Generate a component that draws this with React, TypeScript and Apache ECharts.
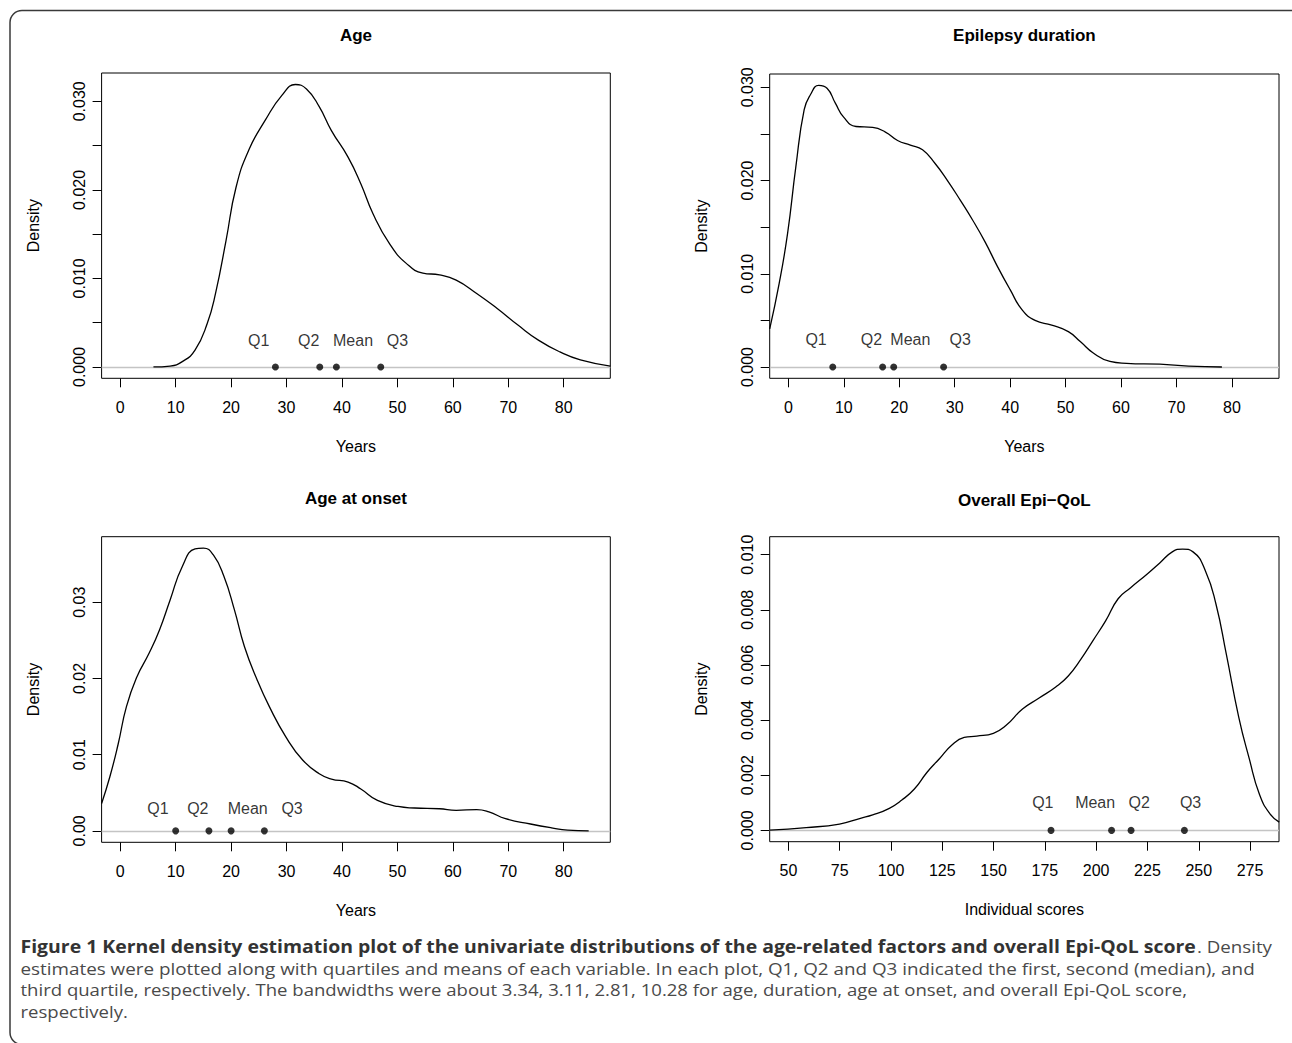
import React, { useEffect, useRef } from "react";
import * as echarts from "echarts";

// ---------- data ----------
const panelTitles = ["Age", "Epilepsy duration", "Age at onset", "Overall Epi\u2212QoL"];
const xNames = ["Years", "Years", "Years", "Individual scores"];

const ageX = [6, 9, 11.2, 13.5, 15.7, 17.2, 19.1, 20.9, 23.2, 26.2, 29.2, 31.6, 33.6, 35.9, 38.1, 41.1, 43.4, 45.6, 48.6, 51.6, 54.6, 57.6, 60.6, 64.3, 68, 71.8, 75.5, 79.3, 83, 88.4];
const ageD = [0, 0.0001, 0.0006, 0.0019, 0.0049, 0.0083, 0.0143, 0.0203, 0.0245, 0.0279, 0.0307, 0.0319, 0.0314, 0.0294, 0.0267, 0.0237, 0.0207, 0.0173, 0.0139, 0.0117, 0.0106, 0.0104, 0.0098, 0.0083, 0.0066, 0.0047, 0.003, 0.0017, 0.0008, 0.0001];

const durX = [-3.37, -1.65, -0.15, 1.35, 2.85, 3.97, 5.47, 6.97, 8.47, 9.97, 12.2, 15.2, 17.5, 19.7, 22.0, 24.2, 26.5, 28.7, 31.0, 33.2, 35.5, 37.7, 40.0, 42.2, 44.5, 47.5, 50.5, 52.7, 55.0, 58.0, 61.0, 67.0, 72.2, 78.2];
const durD = [0.0041, 0.009, 0.0143, 0.0215, 0.0276, 0.0292, 0.0302, 0.0299, 0.0283, 0.0268, 0.0258, 0.0257, 0.0252, 0.0243, 0.0238, 0.0233, 0.0218, 0.02, 0.0179, 0.0158, 0.0134, 0.0108, 0.0083, 0.0061, 0.005, 0.0045, 0.0038, 0.0027, 0.0015, 0.0006, 0.0004, 0.0003, 0.0001, 0.0];

const onsetX = [-3.36, -1.87, -0.37, 1.12, 3.0, 5.2, 7.1, 9.0, 11.2, 13.5, 15.0, 16.8, 18.7, 20.6, 22.4, 24.7, 26.9, 29.9, 32.9, 35.9, 38.1, 41.1, 43.4, 46.4, 50.1, 53.1, 57.6, 60.6, 64.3, 66.5, 69.5, 74.0, 77.8, 80.7, 84.5];
const onsetD = [0.0036, 0.0071, 0.0114, 0.0163, 0.0202, 0.0233, 0.0264, 0.0303, 0.0347, 0.037, 0.0371, 0.0362, 0.0334, 0.029, 0.0242, 0.0198, 0.0163, 0.0123, 0.0093, 0.0075, 0.0068, 0.0064, 0.0055, 0.004, 0.0032, 0.003, 0.0029, 0.0027, 0.0028, 0.0025, 0.0016, 0.0009, 0.0004, 0.0001, 0.0];

const qolX = [40.9, 58.7, 74.9, 85.1, 91.1, 99.2, 105.3, 111.4, 117.5, 123.6, 129.7, 135.7, 141.8, 149.9, 156.0, 164.1, 172.2, 180.3, 186.4, 192.5, 198.6, 204.6, 210.7, 216.8, 224.9, 231.0, 237.1, 242.1, 247.2, 253.3, 258.4, 263.4, 269.5, 274.6, 279.6, 284.7, 289.2];
const qolD = [0.00001, 0.0001, 0.00023, 0.00044, 0.00056, 0.0008, 0.0011, 0.0015, 0.0021, 0.0026, 0.0031, 0.00337, 0.00342, 0.00352, 0.0038, 0.0044, 0.0048, 0.0052, 0.0056, 0.0062, 0.0069, 0.0076, 0.0084, 0.0088, 0.0093, 0.0097, 0.0101, 0.0102, 0.0101, 0.0094, 0.0082, 0.0064, 0.0041, 0.0026, 0.0013, 0.0006, 0.0003];

const ageStatNames = ["Q1", "Q2", "Mean", "Q3"];
const ageStats = [28, 36, 39, 47];
const ageLabelX = [25, 34, 42, 50];

const durStatNames = ["Q1", "Q2", "Mean", "Q3"];
const durStats = [8, 17, 19, 28];
const durLabelX = [5, 15, 22, 31];

const onsetStatNames = ["Q1", "Q2", "Mean", "Q3"];
const onsetStats = [10, 16, 20, 26];
const onsetLabelX = [6.8, 14, 23, 31];

const qolStatNames = ["Q1", "Mean", "Q2", "Q3"];
const qolStats = [178, 207.5, 217, 243];
const qolLabelX = [174, 199.5, 221, 246];

const labelLevels = [0.003, 0.003, 0.003, 0.001];

const yearTicks = [0, 10, 20, 30, 40, 50, 60, 70, 80];
const scoreTicks = [50, 75, 100, 125, 150, 175, 200, 225, 250, 275];
const densTicks1 = [0, 0.005, 0.01, 0.015, 0.02, 0.025, 0.03];
const densLabels1 = [0, 0.01, 0.02, 0.03];
const densTicks3 = [0, 0.01, 0.02, 0.03];
const densTicks4 = [0, 0.002, 0.004, 0.006, 0.008, 0.01];

const xRanges = [[-3.35, 88.4], [-3.37, 88.5], [-3.36, 88.4], [40.9, 289.1]];
const yRanges = [[-0.00128, 0.0332], [-0.00121, 0.03143], [-0.0015, 0.0386], [-0.00041, 0.01065]];

const captionBold = "Figure 1 Kernel density estimation plot of the univariate distributions of the age-related factors and overall Epi-QoL score";
const captionLines = [
  ". Density",
  "estimates were plotted along with quartiles and means of each variable. In each plot, Q1, Q2 and Q3 indicated the first, second (median), and",
  "third quartile, respectively. The bandwidths were about 3.34, 3.11, 2.81, 10.28 for age, duration, age at onset, and overall Epi-QoL score,",
  "respectively.",
];

// ---------- layout ----------
const grids = [
  { left: 101.6, top: 73, width: 508.7, height: 305.3 },
  { left: 769.7, top: 74, width: 509.3, height: 304.3 },
  { left: 101.6, top: 536.7, width: 508.7, height: 305.6 },
  { left: 769.7, top: 536.7, width: 509.3, height: 305 },
];
const titleY = [35, 35, 498, 500];

const FONT = "Liberation Sans";
const CAP_FONT = "Open Sans";

function measure(text: string, font: string): number {
  const c = document.createElement("canvas").getContext("2d");
  if (!c) return text.length * 8;
  c.font = font;
  return c.measureText(text).width;
}

export default function App() {
  const ref = useRef<HTMLDivElement>(null);
  useEffect(() => {
    if (!ref.current) return;
    const chart = echarts.init(ref.current, undefined, { renderer: "svg" });

    const curves = [
      [ageX, ageD],
      [durX, durD],
      [onsetX, onsetD],
      [qolX, qolD],
    ];
    const stats = [
      [ageStatNames, ageStats, ageLabelX],
      [durStatNames, durStats, durLabelX],
      [onsetStatNames, onsetStats, onsetLabelX],
      [qolStatNames, qolStats, qolLabelX],
    ] as [string[], number[], number[]][];
    const xTicks = [yearTicks, yearTicks, yearTicks, scoreTicks];
    const yTicks = [densTicks1, densTicks1, densTicks3, densTicks4];
    const yLabels = [densLabels1, densLabels1, densTicks3, densTicks4];
    const yDigits = [3, 3, 2, 3];

    const series: any[] = [];
    curves.forEach(([xs, ds], i) => {
      series.push({
        type: "line",
        xAxisIndex: i,
        yAxisIndex: i,
        data: xs.map((x, k) => [x, ds[k]]),
        showSymbol: false,
        smooth: 0.5,
        lineStyle: { color: "#000", width: 1.3 },
        z: 3,
        markLine: {
          silent: true,
          symbol: "none",
          label: { show: false },
          lineStyle: { color: "#c4c4c4", width: 1.4, type: "solid" },
          data: [{ yAxis: 0 }],
          z: 1,
        },
      });
      const [names, vals, lx] = stats[i];
      series.push({
        type: "scatter",
        xAxisIndex: i,
        yAxisIndex: i,
        symbolSize: 7,
        itemStyle: { color: "#000" },
        data: vals.map((v, k) => ({ name: names[k], value: [v, 0] })),
        z: 4,
      });
      series.push({
        type: "scatter",
        xAxisIndex: i,
        yAxisIndex: i,
        symbolSize: 0,
        silent: true,
        data: lx.map((v, k) => ({ name: names[k], value: [v, labelLevels[i]] })),
        label: {
          show: true,
          position: "inside",
          formatter: "{b}",
          color: "#000",
          fontSize: 16,
          fontFamily: FONT,
        },
        z: 4,
      });
    });

    const graphics: any[] = [];
    // outer rounded frame
    graphics.push({
      type: "rect",
      shape: { x: 10, y: 10.5, width: 1300, height: 1034, r: 12 },
      style: { fill: "none", stroke: "#3a3a3a", lineWidth: 1.5 },
      silent: true,
    });
    // panel titles
    grids.forEach((g, i) => {
      graphics.push({
        type: "text",
        x: g.left + g.width / 2,
        y: titleY[i],
        style: {
          text: panelTitles[i],
          fill: "#000",
          fontSize: 17,
          fontWeight: "bold",
          fontFamily: FONT,
          align: "center",
          verticalAlign: "middle",
        },
      });
    });
    // caption
    const capSize = 17;
    const boldFont = `bold ${capSize}px "${CAP_FONT}"`;
    const normFont = `${capSize}px "${CAP_FONT}"`;
    const capLeft = 20.5;
    const boldW = measure(captionBold, boldFont);
    const boldScale = (1197 - capLeft) / boldW;
    const lineEnds = [1272, 1255, 1188, 128];
    const lineYs = [946.5, 968, 989.5, 1011];
    graphics.push({
      type: "text",
      x: capLeft,
      y: lineYs[0],
      scaleX: boldScale,
      style: {
        text: captionBold,
        fill: "#333",
        fontSize: capSize,
        fontWeight: "bold",
        fontFamily: CAP_FONT,
        align: "left",
        verticalAlign: "middle",
      },
    });
    captionLines.forEach((t, i) => {
      const start = i === 0 ? 1197 : capLeft;
      const w = measure(t, normFont);
      const sc = (lineEnds[i] - start) / w;
      graphics.push({
        type: "text",
        x: start,
        y: lineYs[i],
        scaleX: sc,
        style: {
          text: t,
          fill: "#4a4a4a",
          fontSize: capSize,
          fontFamily: CAP_FONT,
          align: "left",
          verticalAlign: "middle",
        },
      });
    });

    const option: any = {
      animation: false,
      backgroundColor: "#fff",
      grid: grids.map((g) => ({
        ...g,
        show: true,
        borderColor: "#000",
        borderWidth: 1,
        backgroundColor: "transparent",
        containLabel: false,
      })),
      xAxis: grids.map((_, i) => ({
        type: "value",
        gridIndex: i,
        position: "bottom",
        min: xRanges[i][0],
        max: xRanges[i][1],
        name: xNames[i],
        nameLocation: "middle",
        nameGap: 60,
        nameTextStyle: { fontSize: 16, fontFamily: FONT, color: "#000" },
        axisLine: { show: false, onZero: false },
        splitLine: { show: false },
        axisTick: {
          show: true,
          inside: false,
          length: 9,
          customValues: xTicks[i],
          lineStyle: { color: "#000", width: 1 },
        },
        axisLabel: {
          show: true,
          customValues: xTicks[i],
          margin: 21,
          fontSize: 16,
          fontFamily: FONT,
          color: "#000",
          formatter: (v: number) => String(Math.round(v)),
        },
      })),
      yAxis: grids.map((_, i) => ({
        type: "value",
        gridIndex: i,
        position: "left",
        min: yRanges[i][0],
        max: yRanges[i][1],
        name: "Density",
        nameLocation: "middle",
        nameGap: 60,
        nameTextStyle: { fontSize: 16, fontFamily: FONT, color: "#000" },
        axisLine: { show: false, onZero: false },
        splitLine: { show: false },
        axisTick: {
          show: true,
          inside: false,
          length: 9,
          customValues: yTicks[i],
          lineStyle: { color: "#000", width: 1 },
        },
        axisLabel: {
          show: true,
          customValues: yLabels[i],
          rotate: 90,
          margin: 14,
          fontSize: 16,
          fontFamily: FONT,
          color: "#000",
          formatter: (v: number) => v.toFixed(yDigits[i]),
        },
      })),
      series,
      graphic: graphics,
    };
    chart.setOption(option);
    return () => chart.dispose();
  }, []);

  return (
    <div
      ref={ref}
      style={{ position: "absolute", left: 0, top: 0, width: 1292, height: 1043, background: "#fff" }}
    />
  );
}
